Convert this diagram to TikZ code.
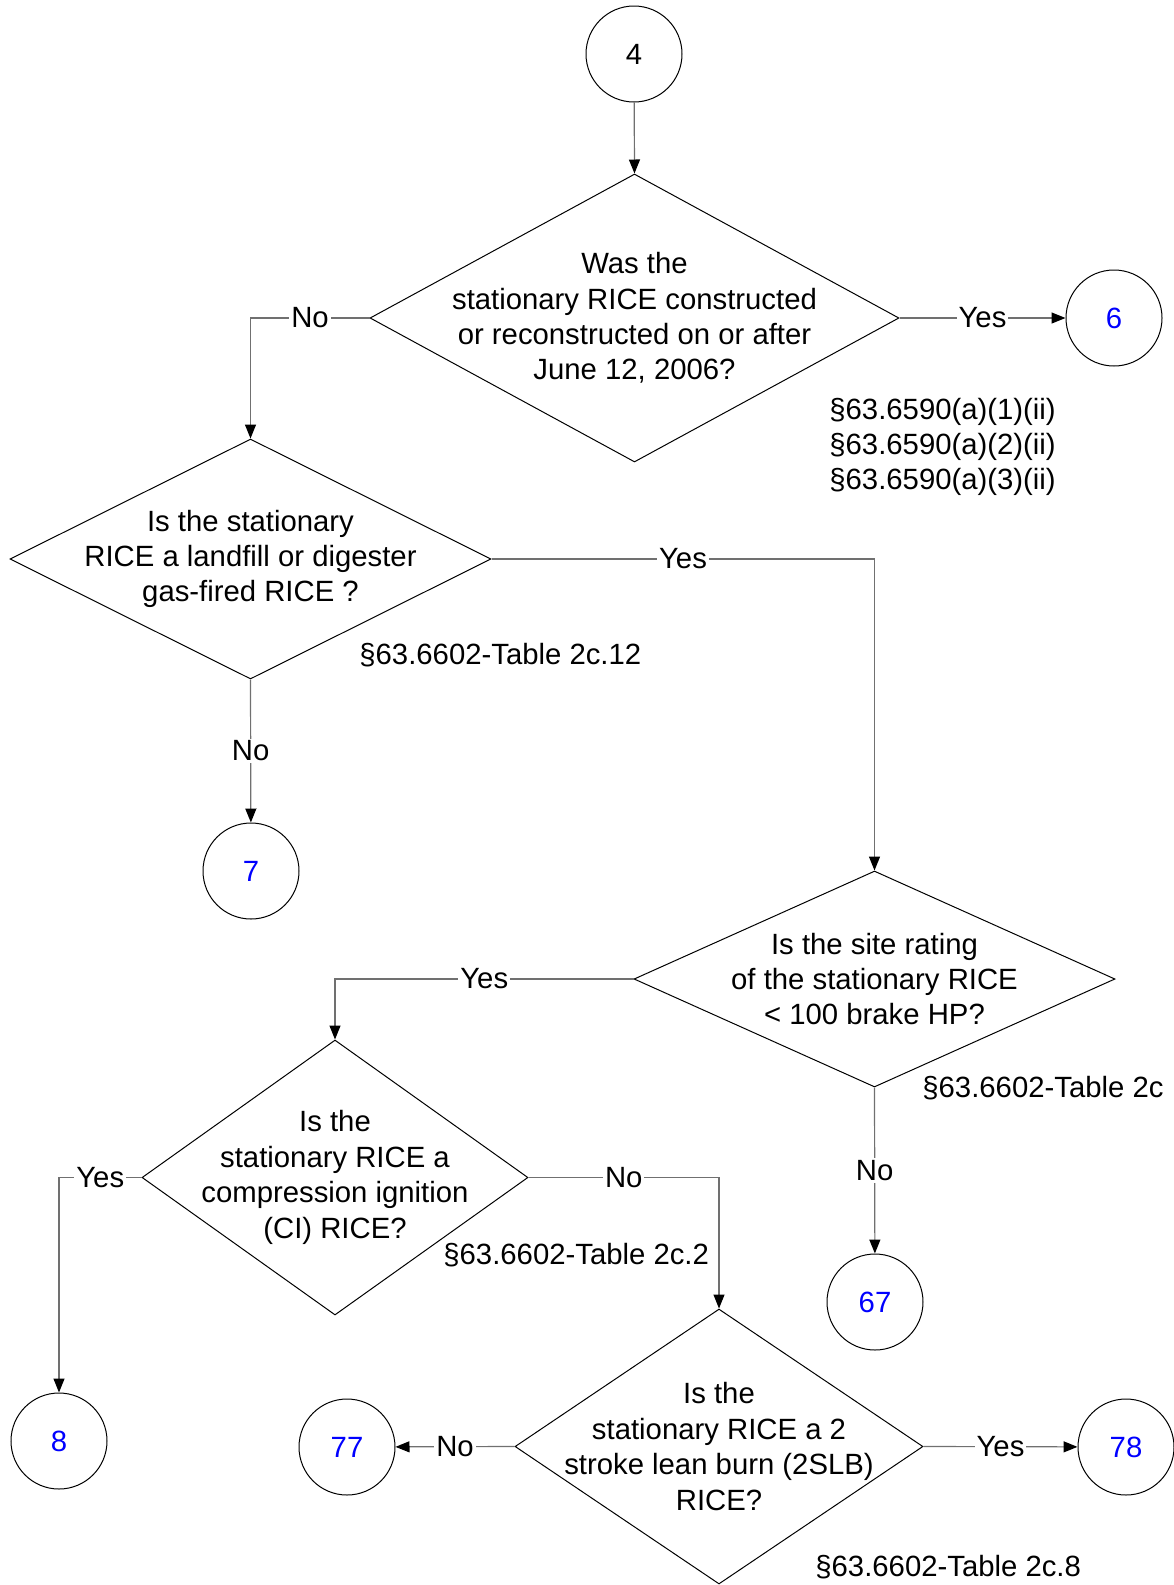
\documentclass[tikz,border=0pt]{standalone}
\usepackage{fontspec}
\setmainfont{Liberation Sans}
\usetikzlibrary{shapes.geometric,arrows.meta}
\definecolor{conn}{RGB}{112,112,112}
\definecolor{numblue}{RGB}{0,0,255}
\tikzset{
  txt/.style={font=\fontsize{14.65pt}{17.7pt}\selectfont},
  dia/.style={draw=black,line width=0.5pt,shape=diamond,inner sep=0pt},
  term/.style={draw=black,line width=0.5pt,shape=circle,minimum size=48pt,inner sep=0pt,txt},
  qtext/.style={txt,align=center,inner sep=0pt},
  ref/.style={txt,inner sep=0pt,anchor=west},
  flow/.style={draw=conn,line width=0.6pt,-{Triangle[length=7pt,width=5.5pt,color=black]}},
  lab/.style={txt,fill=white,inner sep=1pt,text=black}
}
\begin{document}
\begin{tikzpicture}[x=0.5pt,y=-0.5pt]
\useasboundingbox (0,0) rectangle (1173,1585);
% terminals
\node[term] (c4) at (634,54) {4};
\node[term,text=numblue] (c6) at (1114,318) {6};
\node[term,text=numblue] (c7) at (251,871) {7};
\node[term,text=numblue] (c67) at (875,1302) {67};
\node[term,text=numblue] (c8) at (59,1441) {8};
\node[term,text=numblue] (c77) at (347,1447) {77};
\node[term,text=numblue] (c78) at (1126,1447) {78};
% decisions
\node[dia,minimum width=264.5pt,minimum height=144pt] (d1) at (634.5,318) {};
\node[qtext] (t1) at (d1) {Was the\\stationary RICE constructed\\or reconstructed on or after\\June 12, 2006?};
\node[dia,minimum width=240.5pt,minimum height=120pt] (d2) at (250.5,559) {};
\node[qtext] (t2) at (d2) {Is the stationary\\RICE a landfill or digester\\gas-fired RICE ?};
\node[dia,minimum width=240.5pt,minimum height=108pt] (d3) at (874.5,979) {};
\node[qtext] (t3) at (d3) {Is the site rating\\of the stationary RICE\\< 100 brake HP?};
\node[dia,minimum width=193pt,minimum height=137.5pt] (d4) at (335,1177.5) {};
\node[qtext] (t4) at (d4) {Is the\\stationary RICE a\\compression ignition\\(CI) RICE?};
\node[dia,minimum width=204pt,minimum height=137.5pt] (d5) at (719,1446.5) {};
\node[qtext] (t5) at (d5) {Is the\\stationary RICE a 2\\stroke lean burn (2SLB)\\RICE?};
% references
\node[ref,align=left] (r1) at (829,447) {§63.6590(a)(1)(ii)\\§63.6590(a)(2)(ii)\\§63.6590(a)(3)(ii)};
\node[ref] (r2) at (359,655) {§63.6602-Table 2c.12};
\node[ref] (r3) at (922,1088) {§63.6602-Table 2c};
\node[ref] (r4) at (443,1255) {§63.6602-Table 2c.2};
\node[ref] (r5) at (815,1567) {§63.6602-Table 2c.8};
% connectors
\draw[flow] (c4) -- (d1.north);
\draw[flow] (d1.east) -- node[lab]{Yes} (c6);
\draw[flow] (d1.west) -| node[lab,pos=0.25]{No} (d2.north);
\draw[flow] (d2.east) -| node[lab,pos=0.25]{Yes} (d3.north);
\draw[flow] (d2.south) -- node[lab]{No} (c7);
\draw[flow] (d3.west) -| node[lab,pos=0.25]{Yes} (d4.north);
\draw[flow] (d3.south) -- node[lab]{No} (c67);
\draw[flow] (d4.west) -| node[lab,pos=0.25]{Yes} (c8);
\draw[flow] (d4.east) -| node[lab,pos=0.25]{No} (d5.north);
\draw[flow] (d5.west) -- node[lab]{No} (c77);
\draw[flow] (d5.east) -- node[lab]{Yes} (c78);
\end{tikzpicture}
\end{document}
